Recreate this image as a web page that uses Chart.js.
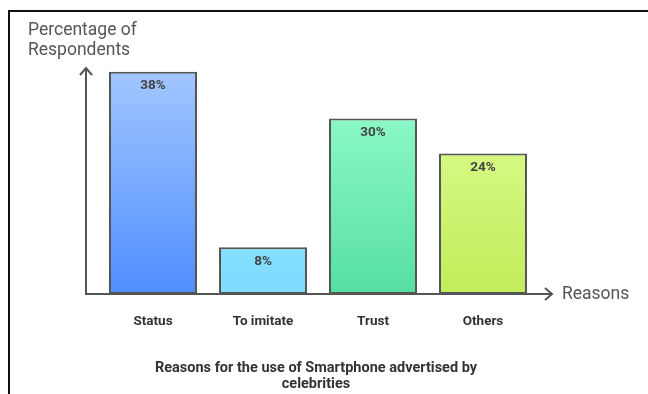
<!DOCTYPE html>
<html><head><meta charset="utf-8">
<script src="https://cdn.jsdelivr.net/npm/chart.js@4.4.1/dist/chart.umd.min.js"></script>
<style>
html,body{margin:0;padding:0;background:#fff;}
#wrap{position:relative;width:648px;height:394px;}
#frame{position:absolute;left:8px;top:10px;right:0;bottom:0;border-left:2px solid #111;border-top:2px solid #111;pointer-events:none;}
canvas{position:absolute;left:0;top:0;}
</style></head>
<body>
<div id="wrap"><canvas id="c" width="648" height="394"></canvas><div id="frame"></div></div>
<script>
const categories = ["Status", "To imitate", "Trust", "Others"];
const values = [38, 8, 30, 24];
const valueLabels = ["38%", "8%", "30%", "24%"];
const topColors = ["#a2c6ff", "#82dfff", "#8af8c6", "#d6f882"];
const bottomColors = ["#4e8eff", "#7fdcff", "#56dfa2", "#c2ec5a"];
const yTitle = ["Percentage of", "Respondents"];
const xTitle = "Reasons";
const chartTitle = ["Reasons for the use of Smartphone advertised by", "celebrities"];

const deco = {
  id: 'deco',
  afterDatasetsDraw(chart) {
    const ctx = chart.ctx, a = chart.chartArea;
    const xs = chart.scales.x, ys = chart.scales.y;
    const meta = chart.getDatasetMeta(0);
    ctx.save();
    // value labels
    ctx.font = 'bold 13.5px Roboto';
    ctx.fillStyle = '#444';
    ctx.textAlign = 'center';
    ctx.textBaseline = 'middle';
    meta.data.forEach((bar, i) => {
      ctx.fillText(valueLabels[i], bar.x, bar.y + 14);
    });
    // axes
    const ax = a.left - 12, base = ys.getPixelForValue(0);
    const yTop = a.top + 8, xEnd = a.right + 14;
    ctx.strokeStyle = '#555';
    ctx.lineWidth = 2;
    ctx.beginPath();
    ctx.moveTo(ax, base); ctx.lineTo(ax, yTop);
    ctx.moveTo(ax - 6, yTop + 7); ctx.lineTo(ax, yTop); ctx.lineTo(ax + 6, yTop + 7);
    ctx.moveTo(ax - 1, base); ctx.lineTo(xEnd, base);
    ctx.moveTo(xEnd - 7, base - 6); ctx.lineTo(xEnd, base); ctx.lineTo(xEnd - 7, base + 6);
    ctx.stroke();
    // axis titles
    ctx.font = '17.5px Roboto';
    ctx.fillStyle = '#555';
    ctx.textAlign = 'left';
    ctx.fillText(yTitle[0], 28, 31);
    ctx.fillText(yTitle[1], 28, 51);
    ctx.fillText(xTitle, xEnd + 10, base + 1);
    // category labels
    ctx.font = 'bold 13.5px Roboto';
    ctx.fillStyle = '#333';
    ctx.textAlign = 'center';
    categories.forEach((c, i) => ctx.fillText(c, xs.getPixelForValue(i), base + 28));
    // chart title
    ctx.font = 'bold 14.5px Roboto';
    const cx = (a.left + a.right) / 2 - 2;
    ctx.fillText(chartTitle[0], cx, base + 74);
    ctx.fillText(chartTitle[1], cx, base + 90);
    ctx.restore();
  }
};

new Chart(document.getElementById('c'), {
  type: 'bar',
  data: {
    labels: categories,
    datasets: [{
      data: values,
      backgroundColor: (ctx) => {
        const chart = ctx.chart;
        if (!chart.chartArea) return topColors[ctx.dataIndex];
        const ys = chart.scales.y;
        const y0 = ys.getPixelForValue(values[ctx.dataIndex]);
        const y1 = ys.getPixelForValue(0);
        const g = chart.ctx.createLinearGradient(0, y0, 0, y1);
        g.addColorStop(0, topColors[ctx.dataIndex]);
        g.addColorStop(1, bottomColors[ctx.dataIndex]);
        return g;
      },
      borderColor: '#555',
      borderWidth: 2,
      borderSkipped: false,
      barPercentage: 0.8,
      categoryPercentage: 1.0
    }]
  },
  options: {
    responsive: false,
    animation: false,
    devicePixelRatio: 1,
    layout: { padding: { left: 98, right: 110, top: 60, bottom: 100 } },
    plugins: { legend: { display: false }, tooltip: { enabled: false }, title: { display: false } },
    scales: {
      x: { display: false },
      y: { display: false, min: 0, max: 40 }
    }
  },
  plugins: [deco]
});
</script>
</body></html>
